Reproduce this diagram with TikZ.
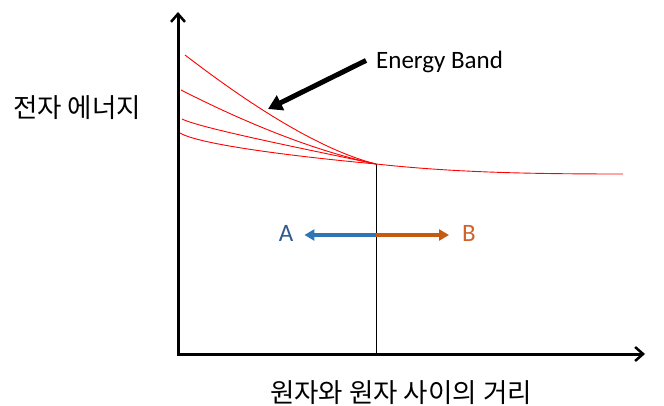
\documentclass[tikz,border=0pt]{standalone}
\usepackage{fontspec}
\setmainfont{Carlito}
\newfontfamily\krfont{Noto Sans CJK KR}
\usetikzlibrary{arrows.meta}
\definecolor{bandred}{HTML}{FF0000}
\definecolor{arrowblue}{HTML}{2E75B6}
\definecolor{textblue}{HTML}{2F5A8C}
\definecolor{arroworange}{HTML}{C55A11}
\definecolor{textorange}{HTML}{D0632A}
\tikzset{
  axisline/.style={line width=3pt, {Straight Barb[length=8pt,width=14pt,line width=2.5pt]}-{Straight Barb[length=8pt,width=14pt,line width=2.5pt]}, line join=miter},
  band/.style={bandred, line width=0.9pt},
  guide/.style={black, line width=1pt},
  pointer/.style={line width=5pt, -{Triangle[length=14pt,width=16pt]}},
  moveA/.style={arrowblue, line width=4pt, -{Triangle[length=10pt,width=11pt]}},
  moveB/.style={arroworange, line width=4pt, -{Triangle[length=10pt,width=11pt]}},
  krlabel/.style={font=\krfont\fontsize{26.5}{30}\selectfont, inner sep=0pt},
  latlabel/.style={font=\fontsize{25}{29}\selectfont, inner sep=0pt}
}
\begin{document}
\begin{tikzpicture}[x=1pt,y=-1pt]
\useasboundingbox (0,0) rectangle (664,406);
% axes
\coordinate (ytop) at (178,12);
\coordinate (origin) at (178,354);
\coordinate (xend) at (645,354);
\draw[axisline] (ytop) -- (origin) -- (xend);
% convergence point and guide line
\coordinate (P) at (376,164);
\coordinate (Pbot) at (376,354);
\draw[guide] (P) -- (Pbot);
% energy band curves
\draw[band] (185,55) .. controls (250,105) and (320,150) .. (P);
\draw[band] (181,90) .. controls (240,120) and (310,150) .. (P);
\draw[band] (182,119) .. controls (200,128) and (300,148) .. (P);
\draw[band] (180,133) .. controls (200,145) and (300,157) .. (P);
\draw[band] (P) .. controls (450,172) and (520,174) .. (623,174);
% labels
\node[krlabel] (ylab) at (77,108) {전자 에너지};
\node[krlabel] (xlab) at (401,393) {원자와 원자 사이의 거리};
\node[latlabel, anchor=base west] (eb) at (376,69) {Energy Band};
\coordinate (tip) at (268,109);
\draw[pointer] ([shift={(-10,-2)}]eb.west) -- (tip);
% A / B arrows
\coordinate (M) at (376,235);
\node[latlabel, text=textblue] (A) at (286,233) {A};
\node[latlabel, text=textorange] (B) at (469,233) {B};
\draw[moveA, shorten >=11pt] (M) -- (A.east |- M);
\draw[moveB, shorten >=13pt] (M) -- (B.west |- M);
\end{tikzpicture}
\end{document}
